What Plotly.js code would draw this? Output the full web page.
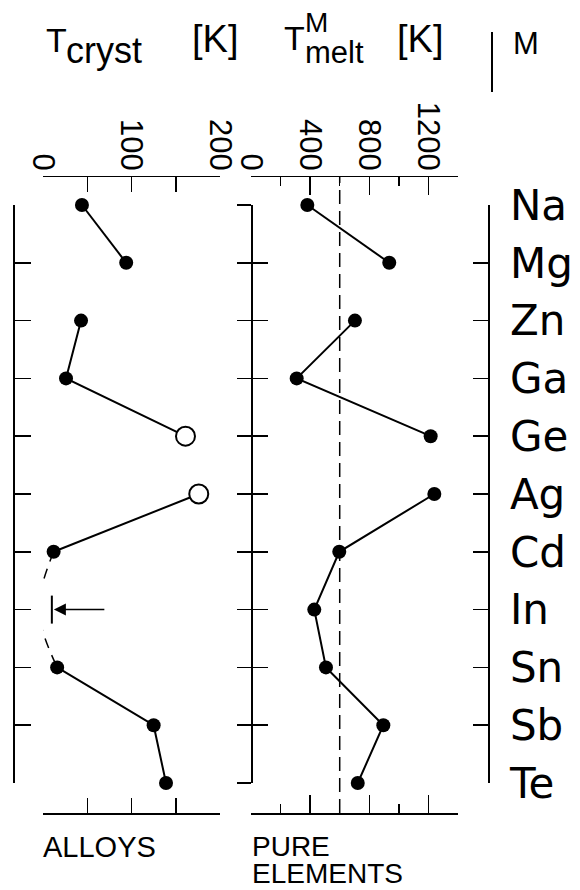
<!DOCTYPE html>
<html><head><meta charset="utf-8">
<script src="https://cdn.plot.ly/plotly-3.0.1.min.js"></script>
<style>html,body{margin:0;padding:0;background:#fff}#chart{width:580px;height:890px}</style>
</head><body><div id="chart"></div>
<script>
// ---- data ----
const elements = ['Na','Mg','Zn','Ga','Ge','Ag','Cd','In','Sn','Sb','Te'];
const tCryst = [44, 94, 43, 26, 161, 176, 12, null, 16, 125, 139];      // K, alloys
const crystOpen = [false,false,false,false,true,true,false,false,false,false,false];
const crystUpperLimitIn = 10;   // upper-limit bar for In
const crystGuideIn = -5;        // dashed guide curve passes here at In
const tMelt = [381, 935, 703, 309, 1215, 1240, 597, 428, 507, 895, 722]; // K, pure elements
const meltRef = 600;            // dashed reference line
const crystTicks = [0, 50, 100, 150, 200];
const crystTickText = ['0', '', '100', '', '200'];
const meltTicks = [0, 400, 800, 1200];
const meltMinorTicks = [200, 600, 1000, 1400];
const crystSegments = [[0,1],[2,4],[5,6],[8,10]];
const meltSegments = [[0,1],[2,4],[5,10]];

// ---- layout helpers ----
const W = 580, H = 890;
const px = v => v / W;
const py = v => 1 - v / H;
const step = (783 - 205) / (elements.length - 1);
const yRange = [elements.length - 1 + (813 - 783) / step, -(205 - 177) / step];
const idx = elements.map((_, i) => i);
const SANS = 'Liberation Sans, Arial, sans-serif';

function segTrace(values, seg, xa, ya, openFlags) {
  const ids = [];
  for (let i = seg[0]; i <= seg[1]; i++) ids.push(i);
  const isOpen = i => !!(openFlags && openFlags[i]);
  return {
    type: 'scatter', mode: 'lines+markers', xaxis: xa, yaxis: ya,
    x: ids.map(i => values[i]), y: ids.map(i => elements[i]),
    line: {color: 'black', width: 2},
    marker: {symbol: 'circle', opacity: 1, size: ids.map(i => isOpen(i) ? 19 : 14),
             color: ids.map(i => isOpen(i) ? 'white' : 'black'),
             line: {color: 'black', width: ids.map(i => isOpen(i) ? 2 : 0)}},
    cliponaxis: false, hoverinfo: 'skip', showlegend: false
  };
}
// invisible carrier so that a frame axis (category ticks) is drawn
function frameCarrier(values, xa, ya) {
  return {type: 'scatter', mode: 'markers', xaxis: xa, yaxis: ya,
          x: values.map(v => v === null ? 0 : v), y: idx,
          marker: {size: 1, opacity: 0}, hoverinfo: 'skip', showlegend: false};
}

const traces = [];
traces.push(frameCarrier(tCryst, 'x', 'y3'));
traces.push(frameCarrier(tMelt, 'x2', 'y4'));
traces.push(frameCarrier(tMelt, 'x2', 'y5'));
traces.push(frameCarrier(tMelt, 'x2', 'y6'));
crystSegments.forEach(s => traces.push(segTrace(tCryst, s, 'x', 'y', crystOpen)));
traces.push({
  type: 'scatter', mode: 'lines', xaxis: 'x', yaxis: 'y',
  x: [tCryst[6], crystGuideIn, tCryst[8]], y: [elements[6], elements[7], elements[8]],
  line: {color: 'black', width: 1.5, shape: 'spline', dash: '10px,8px'},
  cliponaxis: false, hoverinfo: 'skip', showlegend: false
});
traces.push({
  type: 'scatter', mode: 'markers', xaxis: 'x', yaxis: 'y',
  x: [crystUpperLimitIn], y: [elements[7]],
  marker: {symbol: 'line-ns', size: 20, opacity: 1, color: 'black', line: {color: 'black', width: 2}},
  cliponaxis: false, hoverinfo: 'skip', showlegend: false
});
meltSegments.forEach(s => traces.push(segTrace(tMelt, s, 'x2', 'y2', null)));

const axisCommon = {showgrid: false, zeroline: false, linecolor: 'black', linewidth: 1.5,
                    tickcolor: 'black', tickwidth: 1.5, fixedrange: true};
const catAxis = {domain: [py(813), py(177)], range: yRange, type: 'category',
                 categoryorder: 'array', categoryarray: elements, visible: false,
                 showgrid: false, zeroline: false};
const frameY = {...axisCommon, type: 'linear', domain: [py(783), py(205)],
                range: [elements.length - 1, 0], anchor: 'free', tickvals: idx,
                showticklabels: false};

function txt(text, x, y, size, extra) {
  return Object.assign({text: text, xref: 'paper', yref: 'paper', x: px(x), y: py(y),
    xanchor: 'left', yanchor: 'middle', showarrow: false, borderpad: 0,
    font: {size: size, family: SANS, color: 'black'}}, extra || {});
}

const layout = {
  width: W, height: H, margin: {l: 0, r: 0, t: 0, b: 0},
  paper_bgcolor: 'white', plot_bgcolor: 'rgba(0,0,0,0)', showlegend: false,
  font: {family: SANS, color: 'black'},
  xaxis: {...axisCommon, domain: [px(43), px(220)], range: [0, 200], anchor: 'y', side: 'top',
          showline: true, mirror: 'ticks', ticks: 'inside', ticklen: 15,
          tickvals: crystTicks, ticktext: crystTickText, tickangle: 90,
          tickfont: {size: 31, family: SANS}, ticklabelstandoff: -6},
  yaxis: {...catAxis, anchor: 'x'},
  xaxis2: {...axisCommon, domain: [px(251), px(458)], range: [0, 1400], anchor: 'y2', side: 'top',
           showline: true, mirror: 'ticks', ticks: 'inside', ticklen: 18,
           tickvals: meltTicks, tickangle: 90, tickfont: {size: 31, family: SANS},
           ticklabelstandoff: -6,
           minor: {tickvals: meltMinorTicks, ticks: 'inside', ticklen: 9, tickwidth: 1.5, tickcolor: 'black'}},
  yaxis2: {...catAxis, anchor: 'x2'},
  yaxis3: {...frameY, position: px(13), side: 'left', showline: true, ticks: 'inside', ticklen: 16},
  yaxis4: {...frameY, position: px(251), side: 'left', showline: true, ticks: 'outside', ticklen: 14},
  yaxis5: {...frameY, position: px(251), side: 'left', showline: false, ticks: 'inside', ticklen: 16},
  yaxis6: {...frameY, position: px(488), side: 'right', showline: true, ticks: 'inside', ticklen: 15,
           ticktext: elements, showticklabels: true,
           tickfont: {size: 42, family: 'DejaVu Sans, sans-serif'}, ticklabelstandoff: 12},
  shapes: [
    {type: 'line', xref: 'x2', yref: 'y2 domain', x0: meltRef, x1: meltRef, y0: 0, y1: 1,
     line: {color: 'black', width: 1.5, dash: '14px,7px'}},
    {type: 'line', xref: 'paper', yref: 'paper', x0: px(492), x1: px(492), y0: py(32), y1: py(92),
     line: {color: 'black', width: 2}}
  ],
  annotations: [
    {x: crystUpperLimitIn, y: elements.indexOf('In'), xref: 'x', yref: 'y', text: '',
     showarrow: true, ax: 54, ay: 0, arrowhead: 2, arrowsize: 1.6, arrowwidth: 1.5,
     arrowcolor: 'black', standoff: 2},
    txt('T', 45, 40, 34),
    txt('cryst', 65, 51, 36),
    txt('[K]', 191, 39, 38),
    txt('T', 283, 38, 34),
    txt('M', 304, 22, 28),
    txt('melt', 304, 53, 31),
    txt('[K]', 396, 39, 38),
    txt('M', 512, 43, 31),
    txt('ALLOYS', 42, 847, 29),
    txt('PURE', 251, 846, 28),
    txt('ELEMENTS', 251, 890, 28, {yanchor: 'bottom'})
  ]
};

Plotly.newPlot('chart', traces, layout, {staticPlot: true, displayModeBar: false});
</script>
</body></html>
